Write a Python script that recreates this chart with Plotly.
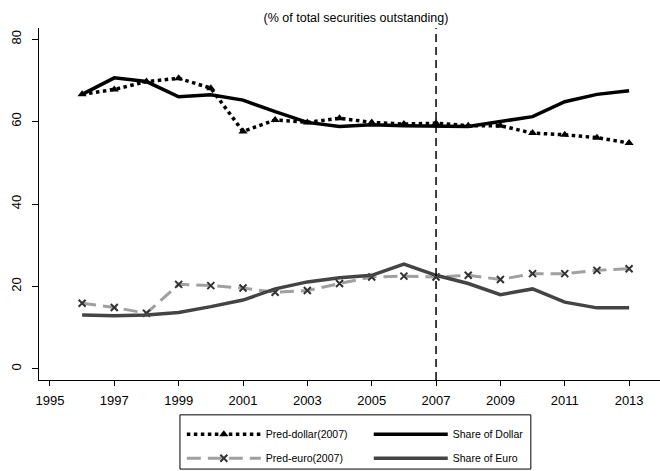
import plotly.graph_objects as go

# years on the x axis
years = list(range(1996, 2014))

# predicted dollar share (2007 model) and actual dollar share
pred_dollar = [66.6, 67.8, 69.7, 70.5, 68.1, 57.6, 60.4, 59.8, 60.8, 59.8,
               59.4, 59.6, 59.0, 59.0, 57.2, 56.8, 56.1, 54.8]
share_dollar = [66.6, 70.6, 69.7, 66.0, 66.5, 65.2, 62.4, 59.8, 58.8, 59.2,
                59.0, 58.8, 58.8, 60.0, 61.2, 64.8, 66.6, 67.5]

# predicted euro share (2007 model) and actual euro share
pred_euro = [15.9, 14.9, 13.5, 20.5, 20.2, 19.6, 18.6, 19.0, 20.7, 22.3,
             22.5, 22.3, 22.7, 21.7, 23.1, 23.1, 23.9, 24.3]
share_euro = [13.1, 12.9, 13.1, 13.7, 15.1, 16.7, 19.4, 21.1, 22.1, 22.7,
              25.4, 22.7, 20.7, 18.0, 19.4, 16.2, 14.8, 14.8]

x_ticks = list(range(1995, 2014, 2))
y_ticks = [0, 20, 40, 60, 80]
cutoff_year = 2007

font = "Liberation Sans, Arial, sans-serif"

fig = go.Figure()

# left legend column: predictions
fig.add_trace(go.Scatter(
    x=years, y=pred_dollar, name="Pred-dollar(2007)", mode="lines+markers",
    line=dict(color="black", width=3.5, dash="dot"),
    marker=dict(symbol="triangle-up", size=8, color="black"),
    legend="legend", legendgroup="a"))
fig.add_trace(go.Scatter(
    x=years, y=pred_euro, name="Pred-euro(2007)", mode="lines+markers",
    line=dict(color="#a0a0a0", width=3, dash="14px,7px"),
    marker=dict(symbol="x-thin", size=7, color="#333333",
                line=dict(width=2, color="#333333")),
    legend="legend", legendgroup="b"))

# right legend column: actual shares
fig.add_trace(go.Scatter(
    x=years, y=share_dollar, name="Share of Dollar", mode="lines",
    line=dict(color="black", width=3.5),
    legend="legend2", legendgroup="c"))
fig.add_trace(go.Scatter(
    x=years, y=share_euro, name="Share of Euro", mode="lines",
    line=dict(color="#444444", width=3.5),
    legend="legend2", legendgroup="d"))

# vertical dashed line at the estimation cut-off
fig.add_shape(type="line", xref="x", yref="paper", x0=cutoff_year, x1=cutoff_year,
              y0=0, y1=1, line=dict(color="black", width=1.5, dash="8px,5px"))

# box around both legend columns
fig.add_shape(type="rect", xref="paper", yref="paper",
              x0=0.227, x1=0.792, y0=-0.253, y1=-0.099,
              line=dict(color="black", width=1))

legend_style = dict(
    orientation="v", yanchor="top", xanchor="left", y=-0.113,
    font=dict(family=font, size=10.5, color="black"),
    bgcolor="rgba(0,0,0,0)", borderwidth=0, itemwidth=74,
    tracegroupgap=5, traceorder="grouped")

fig.update_layout(
    width=660, height=471,
    margin=dict(l=39, r=0, t=28, b=91, autoexpand=False),
    plot_bgcolor="white", paper_bgcolor="white",
    font=dict(family=font, size=13, color="black"),
    title=dict(text="(% of total securities outstanding)", x=356 / 660, xanchor="center",
               y=1 - 18 / 471, yanchor="middle", font=dict(size=12.5)),
    showlegend=True,
    legend=dict(x=0.230, **legend_style),
    legend2=dict(x=0.531, **legend_style),
    xaxis=dict(range=[1994.66, 2013.96], tickvals=x_ticks, showgrid=False, zeroline=False,
               showline=True, linecolor="black", linewidth=1.3,
               ticks="outside", ticklen=5, tickcolor="black", ticklabelstandoff=3),
    yaxis=dict(range=[-2.7, 82.7], tickvals=y_ticks, showgrid=False, zeroline=False,
               showline=True, linecolor="black", linewidth=1.3,
               ticks="outside", ticklen=6, tickcolor="black", tickangle=-90,
               ticklabelstandoff=6),
)

# page body has a default 8px margin; drop it so the figure sits at the corner
fig.write_html("out.html", config={"displayModeBar": False},
               post_script="document.body.style.margin='0';")
